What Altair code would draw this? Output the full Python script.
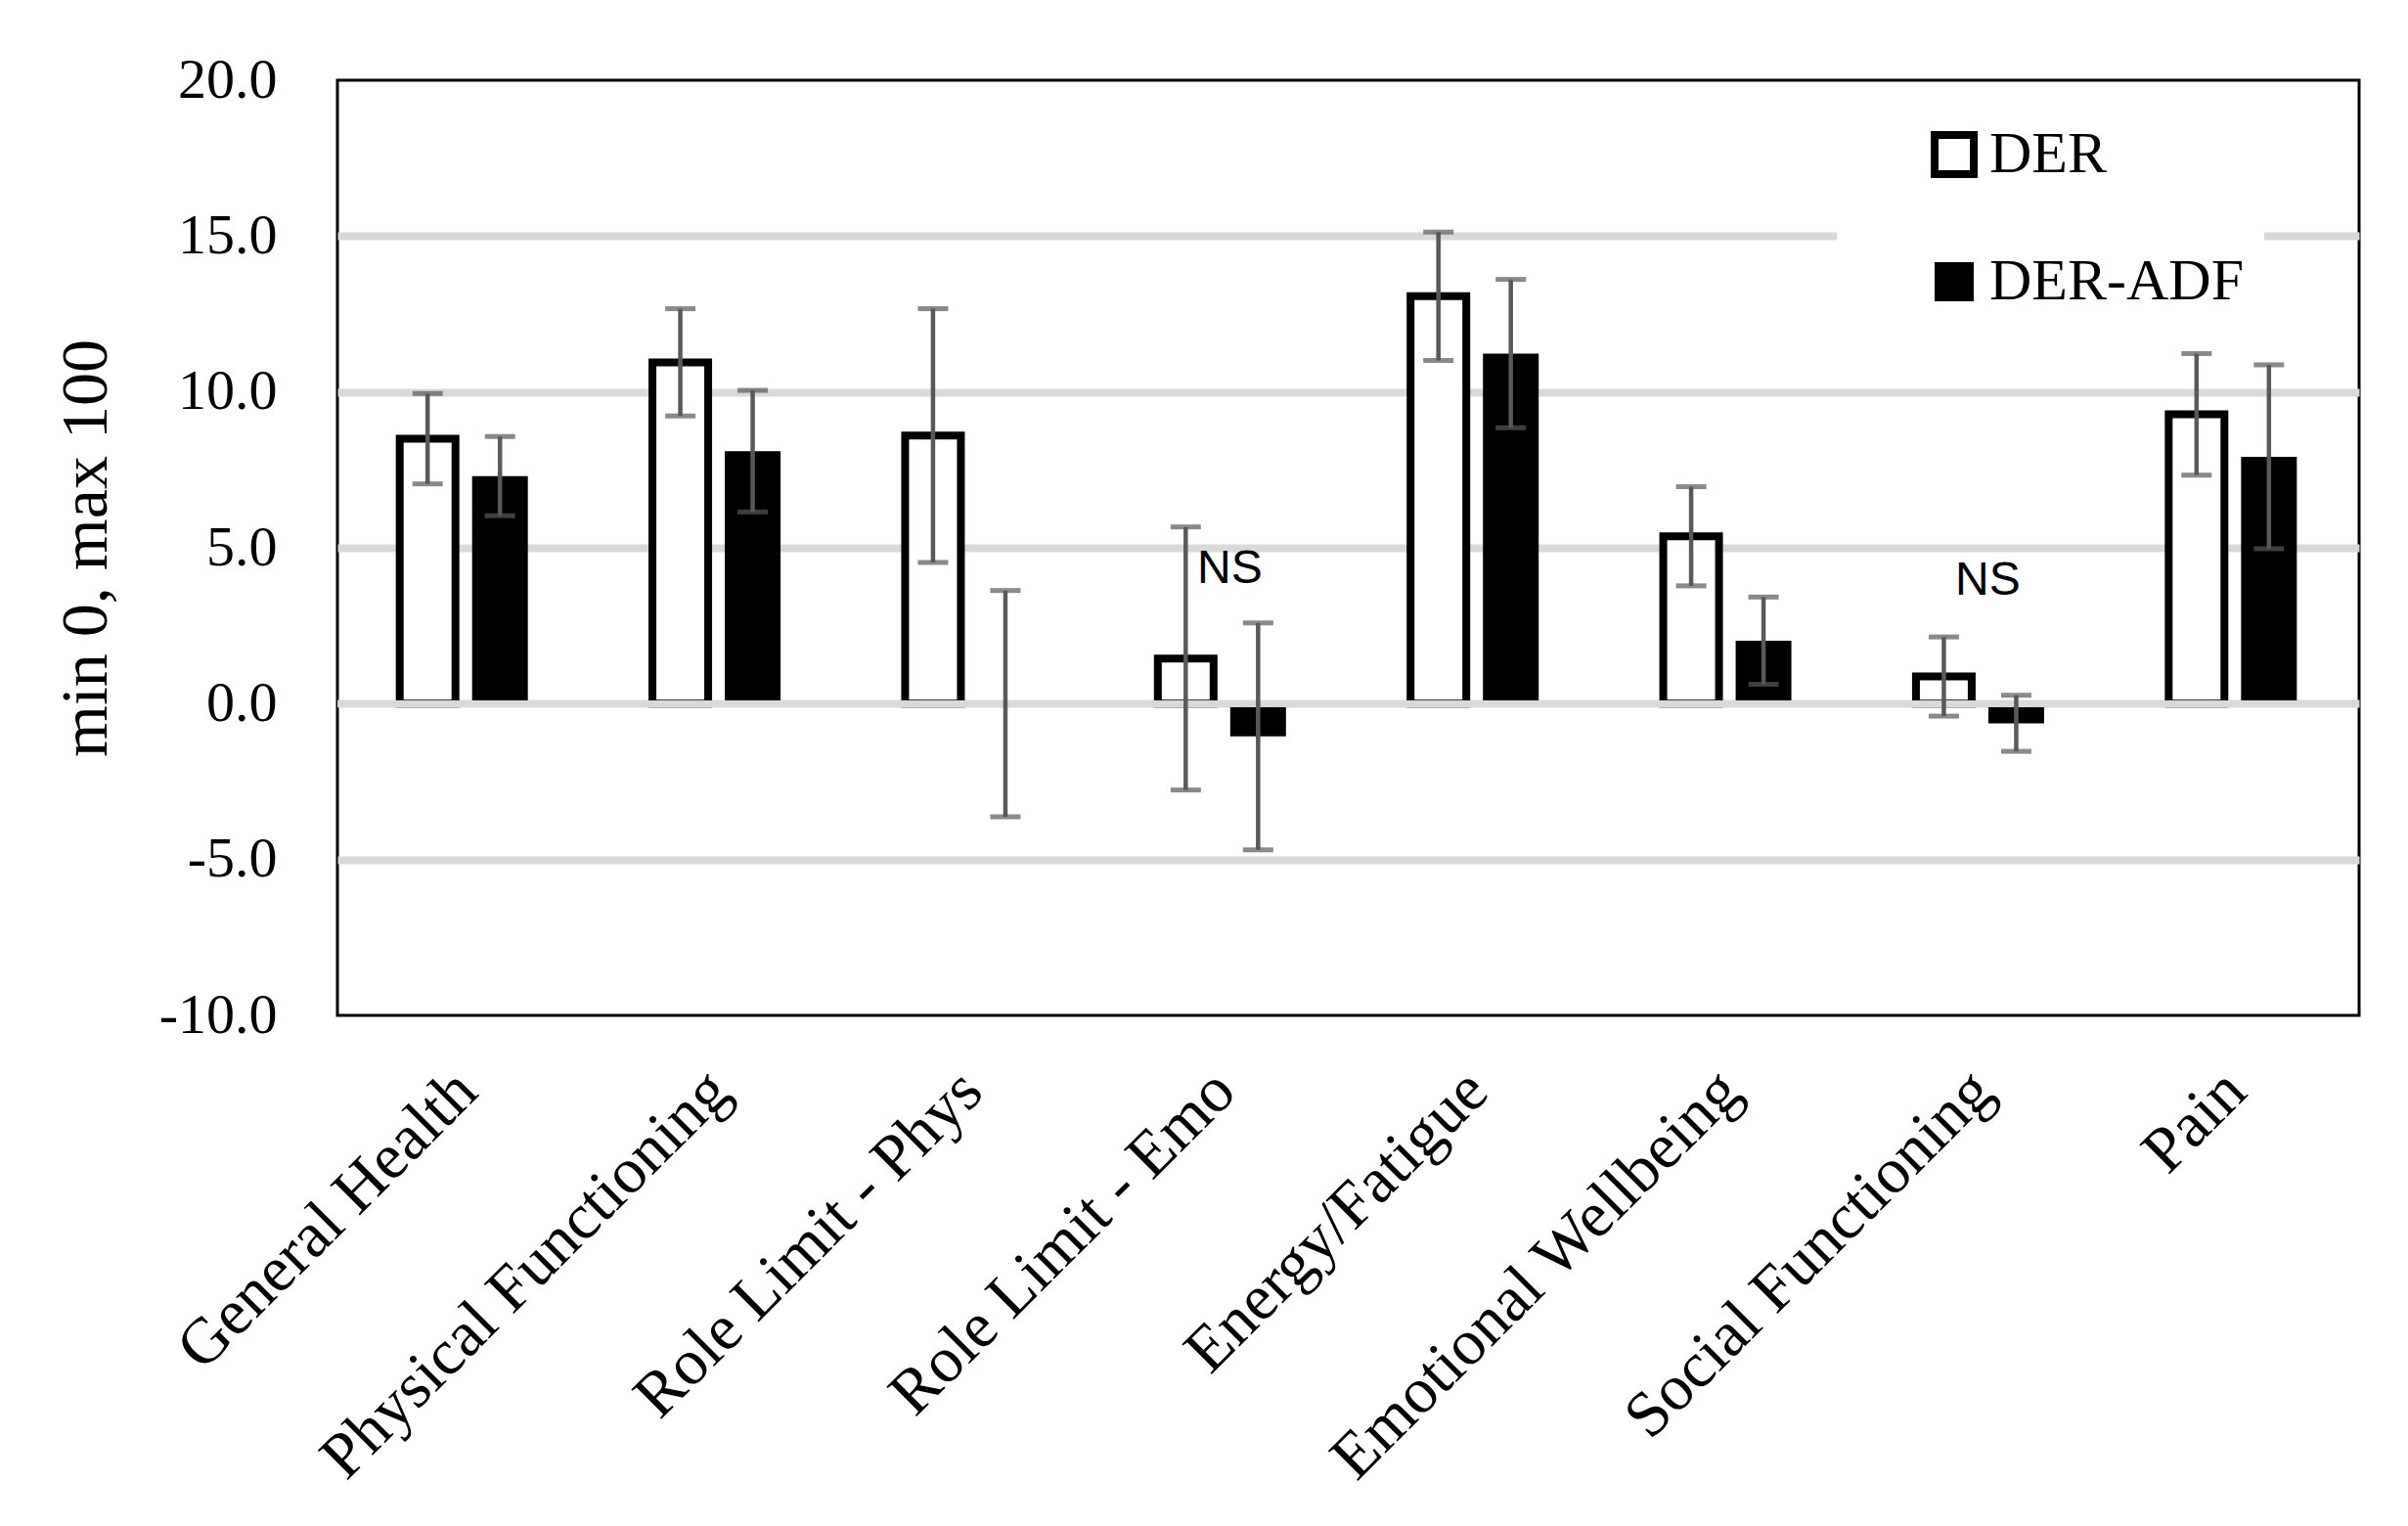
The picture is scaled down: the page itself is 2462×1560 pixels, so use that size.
import altair as alt
import pandas as pd

categories = ["General Health", "Physical Functioning", "Role Limit - Phys", "Role Limit - Emo",
              "Energy/Fatigue", "Emotional Wellbeing", "Social Functioning", "Pain"]
series = ["DER", "DER-ADF"]
der_values = [8.5, 10.95, 8.6, 1.45, 13.07, 5.37, 0.87, 9.28]
der_errors = [1.45, 1.72, 4.07, 4.22, 2.06, 1.59, 1.27, 1.95]
adf_values = [7.3, 8.1, 0.0, -1.05, 11.23, 2.02, -0.63, 7.92]
adf_errors = [1.27, 1.95, 3.63, 3.64, 2.38, 1.40, 0.90, 2.95]
ns_categories = ["Role Limit - Emo", "Social Functioning"]
ns_labels = ["NS", "NS"]
ns_y = [4.3, 3.92]
y_ticks = [-10, -5, 0, 5, 10, 15, 20]

rows = []
for i, c in enumerate(categories):
    rows.append({"category": c, "series": series[0], "value": der_values[i], "err": der_errors[i]})
    rows.append({"category": c, "series": series[1], "value": adf_values[i], "err": adf_errors[i]})
df = pd.DataFrame(rows)
df["lower"] = df["value"] - df["err"]
df["upper"] = df["value"] + df["err"]
ns_df = pd.DataFrame({"category": ns_categories, "label": ns_labels, "y": ns_y})

SERIF = "Liberation Serif"
ERR_COLOR = "#595959"
GRID = "#D9D9D9"

x_enc = alt.X(
    "category:N", sort=categories,
    scale=alt.Scale(paddingInner=0.493, paddingOuter=0.2465),
    axis=alt.Axis(title=None, labelAngle=-45, labelAlign="right", labelBaseline="top",
                  labelFont=SERIF, labelFontSize=66, labelColor="black", labelPadding=44,
                  labelOffset=-20, ticks=False, domain=False, labelLimit=0, grid=False),
)
xoff_enc = alt.XOffset("series:N", sort=series, scale=alt.Scale(domain=series, paddingInner=0.23, paddingOuter=0))
y_scale = alt.Scale(domain=[-10, 20], nice=False)

pad_label = "\u2003" * 2

grid_color = {"condition": {"test": "datum.value === 20 || datum.value === -10", "value": "transparent"},
              "value": GRID}

bars = alt.Chart(df).mark_bar(stroke="black", strokeJoin="miter").encode(
    x=x_enc,
    xOffset=xoff_enc,
    y=alt.Y("value:Q", scale=y_scale,
            axis=alt.Axis(values=y_ticks, title="min 0, max 100",
                          labelExpr="(datum.value < 0 ? '-' : '') + format(abs(datum.value), '.1f')",
                          titleFont=SERIF, titleFontSize=68, titleFontWeight="normal", titleColor="black",
                          titlePadding=40, labelFont=SERIF, labelFontSize=58, labelColor="black",
                          labelPadding=62, ticks=False, domain=False, gridColor=grid_color, gridWidth=8)),
    fill=alt.Fill("series:N", scale=alt.Scale(domain=series, range=["white", "black"]),
                  legend=alt.Legend(title=None, orient="none", legendX=1533, legendY=26, padding=20,
                                    fillColor="white", symbolType="square", symbolSize=1600,
                                    symbolStrokeColor="black", symbolStrokeWidth=6, symbolOffset=70,
                                    labelFont=SERIF, labelFontSize=60, labelColor="black", labelOffset=6,
                                    labelLimit=0, rowPadding=64,
                                    labelExpr="datum.label + '" + pad_label + "'")),
    strokeWidth=alt.StrokeWidth("series:N", scale=alt.Scale(domain=series, range=[8, 0]), legend=None),
)

zero_line = alt.Chart(df).mark_rule(color=GRID, strokeWidth=6).encode(y=alt.datum(0))

err_rule = alt.Chart(df).mark_rule(color=ERR_COLOR, strokeWidth=4.5).encode(
    x=x_enc, xOffset=xoff_enc, y=alt.Y("lower:Q", scale=y_scale), y2="upper:Q")
cap_low = alt.Chart(df).mark_tick(color=ERR_COLOR, thickness=5, size=31).encode(
    x=x_enc, xOffset=xoff_enc, y=alt.Y("lower:Q", scale=y_scale))
cap_up = alt.Chart(df).mark_tick(color=ERR_COLOR, thickness=5, size=31).encode(
    x=x_enc, xOffset=xoff_enc, y=alt.Y("upper:Q", scale=y_scale))

ns_text = alt.Chart(ns_df).mark_text(font="Liberation Sans", fontSize=48, color="black",
                                     baseline="middle", align="center", dx=8).encode(
    x=x_enc, y=alt.Y("y:Q", scale=y_scale), text="label:N")

chart = alt.layer(bars, zero_line, err_rule, cap_low, cap_up, ns_text).properties(
    width=2067, height=956,
    padding={"left": 337, "top": 74, "right": 30, "bottom": 520},
    autosize=alt.AutoSizeParams(type="none"),
).configure(background="white").configure_view(stroke="black", strokeWidth=3)

chart.save("out.html", embed_options={"renderer": "svg", "actions": False})
